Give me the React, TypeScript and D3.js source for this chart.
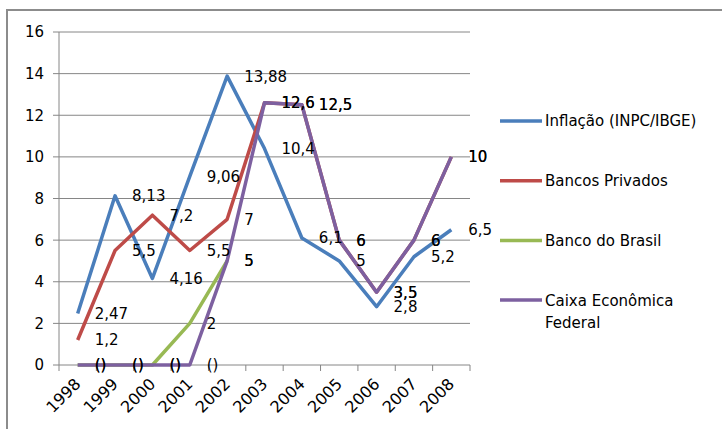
import * as d3 from 'd3'

const years = ['1998', '1999', '2000', '2001', '2002', '2003', '2004', '2005', '2006', '2007', '2008']
const yTicks = [0, 2, 4, 6, 8, 10, 12, 14, 16]

const inflacao = [2.47, 8.13, 4.16, 9.06, 13.88, 10.4, 6.1, 5, 2.8, 5.2, 6.5]
const bancosPrivados = [1.2, 5.5, 7.2, 5.5, 7, 12.6, 12.5, 6, 3.5, 6, 10]
const bancoDoBrasil: (number | null)[] = [0, 0, 0, 2, 5, null, null, null, null, null, null]
const caixa = [0, 0, 0, 0, 5, 12.6, 12.5, 6, 3.5, 6, 10]

const series = [
  { name: ['Inflação (INPC/IBGE)'], color: '#4a7ebb', values: inflacao as (number | null)[] },
  { name: ['Bancos Privados'], color: '#be4b48', values: bancosPrivados as (number | null)[] },
  { name: ['Banco do Brasil'], color: '#98b954', values: bancoDoBrasil },
  { name: ['Caixa Econômica', 'Federal'], color: '#7d60a0', values: caixa as (number | null)[] },
]

const W = 722
const H = 429
const PLOT = { left: 59, right: 470, top: 32, bottom: 365 }
const FONT = '"DejaVu Sans", sans-serif'
const GRID = '#868686'

// zero labels come out as "()" in the original picture
const fmt = (v: number) => (v === 0 ? '()' : String(v).replace('.', ','))

export default function App() {
  const x = d3.scaleBand<string>().domain(years).range([PLOT.left, PLOT.right]).padding(0)
  const y = d3.scaleLinear().domain([0, 16]).range([PLOT.bottom, PLOT.top])
  const bw = x.bandwidth()
  const cx = (yr: string) => (x(yr) ?? 0) + bw / 2

  const line = d3
    .line<number | null>()
    .defined(d => d != null)
    .x((_, i) => cx(years[i]))
    .y(d => y(d as number))

  const boundaries = [...years.map(yr => x(yr) ?? 0), PLOT.right]

  return (
    <svg width={W} height={H} style={{ position: 'absolute', left: 0, top: 0, background: '#fff' }} fontFamily={FONT}>
      <rect x={7} y={10} width={W + 10} height={H + 10} fill="#fff" stroke="#8c8c8c" strokeWidth={2} />

      {/* grid + y axis */}
      {yTicks.map(t => (
        <g key={t}>
          <line x1={PLOT.left - 6} x2={PLOT.right} y1={y(t)} y2={y(t)} stroke={GRID} strokeWidth={1} />
          <text x={44} y={y(t)} dy="0.36em" textAnchor="end" fontSize={15} fill="#000">{t}</text>
        </g>
      ))}
      <line x1={PLOT.left} x2={PLOT.left} y1={PLOT.top} y2={PLOT.bottom} stroke={GRID} strokeWidth={1} />

      {/* x axis */}
      {boundaries.map((b, i) => (
        <line key={i} x1={b} x2={b} y1={PLOT.bottom} y2={PLOT.bottom + 6} stroke={GRID} strokeWidth={1} />
      ))}
      {years.map(yr => (
        <text key={yr} transform={`translate(${cx(yr) + 4},${PLOT.bottom + 20}) rotate(-45)`} textAnchor="end" fontSize={16} fill="#000">
          {yr}
        </text>
      ))}

      {/* lines */}
      {series.map(s => (
        <path key={s.name[0]} d={line(s.values) ?? ''} fill="none" stroke={s.color} strokeWidth={3.5} strokeLinejoin="round" />
      ))}

      {/* data labels */}
      {series.map(s =>
        s.values.map((v, i) =>
          v == null ? null : (
            <text key={s.name[0] + i} x={cx(years[i]) + 17} y={y(v)} dy="0.36em" fontSize={15} fill="#000">
              {fmt(v)}
            </text>
          )
        )
      )}

      {/* legend */}
      {series.map((s, i) => {
        const ly = 121 + i * 59.7
        return (
          <g key={s.name[0]}>
            <line x1={500} x2={542} y1={ly} y2={ly} stroke={s.color} strokeWidth={3.5} />
            {s.name.map((n, j) => (
              <text key={n} x={545} y={ly + j * 22} dy="0.36em" fontSize={15} fill="#000">{n}</text>
            ))}
          </g>
        )
      })}
    </svg>
  )
}
